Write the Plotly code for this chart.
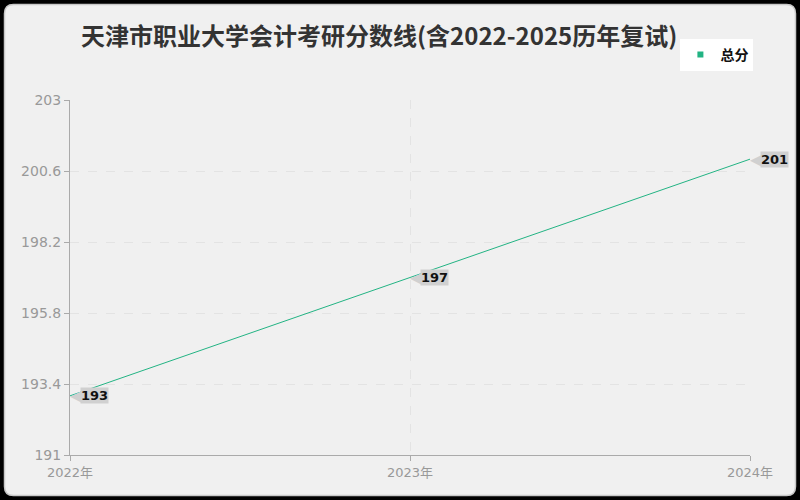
import plotly.graph_objects as go

years = [2022, 2023, 2024]
year_labels = ["2022年", "2023年", "2024年"]
scores = [193, 197, 201]
y_ticks = [191, 193.4, 195.8, 198.2, 200.6, 203]

W, H = 800, 500
ml, mr, mt, mb = 70, 50, 100, 45
pw, ph = W - ml - mr, H - mt - mb


def px2paper(x, y):
    # pixel position -> paper fraction (relative to plot area)
    return (x - ml) / pw, (H - mb - y) / ph


def card_path(x0, y0, x1, y1, r):
    def p(x, y):
        a, b = px2paper(x, y)
        return "%.5f,%.5f" % (a, b)
    pts = ["M " + p(x0 + r, y0),
           "L " + p(x1 - r, y0),
           "Q " + p(x1, y0) + " " + p(x1, y0 + r),
           "L " + p(x1, y1 - r),
           "Q " + p(x1, y1) + " " + p(x1 - r, y1),
           "L " + p(x0 + r, y1),
           "Q " + p(x0, y1) + " " + p(x0, y1 - r),
           "L " + p(x0, y0 + r),
           "Q " + p(x0, y0) + " " + p(x0 + r, y0)]
    return " ".join(pts) + " Z"


tick_font = "DejaVu Sans, Noto Sans CJK SC, sans-serif"
title_font = "Noto Sans CJK SC, sans-serif"
green = "#22b383"
label_grey = "#d0d0d0"

fig = go.Figure()
fig.add_trace(go.Scatter(
    x=years, y=scores, mode="lines", name="总分", showlegend=False,
    line=dict(color=green, width=1), hoverinfo="x+y",
))
# legend entry (square)
fig.add_trace(go.Scatter(
    x=[None], y=[None], mode="markers", name="<b>总分</b>",
    marker=dict(symbol="square", size=6, color=green),
))

for x, y in zip(years, scores):
    # pointer of the callout
    fig.add_annotation(
        x=x, y=y, text="◀", showarrow=False, xanchor="left",
        yanchor="middle", xshift=-1, borderpad=0,
        font=dict(family="DejaVu Sans", size=16, color=label_grey),
    )
    fig.add_annotation(
        x=x, y=y, text="<b>%d</b>" % y, showarrow=False,
        xanchor="left", yanchor="middle", xshift=10,
        bgcolor=label_grey, borderpad=0,
        font=dict(family=tick_font, size=13, color="#111"),
    )

fig.add_shape(type="path", xref="paper", yref="paper", layer="below",
              path=card_path(4.5, 4.5, 795.5, 495.5, 9),
              fillcolor="#f0f0f0", line=dict(color="#c8c8c8", width=1.5))

fig.update_layout(
    width=W, height=H,
    margin=dict(l=ml, r=mr, t=mt, b=mb),
    paper_bgcolor="#000000",
    plot_bgcolor="#fafafa",
    font=dict(family=tick_font, color="#999999", size=13),
    title=dict(text="<b>天津市职业大学会计考研分数线(含2022-2025历年复试)</b>",
               x=0.474, xanchor="center", y=0.927, yanchor="middle",
               font=dict(size=24, color="#333333", family=title_font)),
    showlegend=True,
    legend=dict(x=1.005, y=1.127, xanchor="right", yanchor="middle",
                bgcolor="#ffffff", font=dict(size=14, color="#111111",
                                             family=title_font),
                itemwidth=30),
    xaxis=dict(range=[2022, 2024], tickvals=years, ticktext=year_labels,
               showgrid=True, gridcolor="#e3e3e3", griddash="dash",
               showline=True, linecolor="#aaaaaa", ticks="outside",
               tickcolor="#aaaaaa", ticklen=5, zeroline=False,
               tickfont=dict(size=13, color="#999999")),
    yaxis=dict(range=[191, 203], tickvals=y_ticks,
               ticktext=[("%g" % v) for v in y_ticks],
               showgrid=True, gridcolor="#e3e3e3", griddash="dash",
               showline=True, linecolor="#aaaaaa", ticks="outside",
               tickcolor="#aaaaaa", ticklen=5, zeroline=False,
               tickfont=dict(size=14, color="#999999")),
)

fig.write_html("out.html", config={"displayModeBar": False},
               post_script="document.body.style.margin='0';"
                           "document.body.style.background='#000';")
